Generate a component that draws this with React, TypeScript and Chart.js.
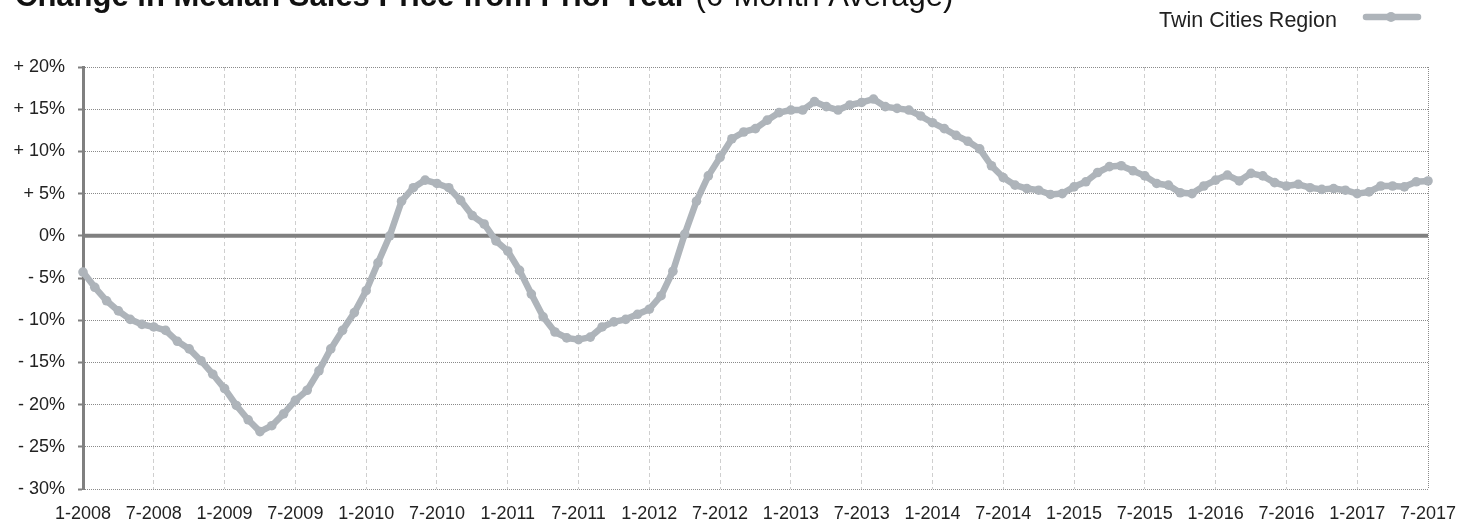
import React, { useEffect, useRef } from "react";
import { Chart, registerables } from "chart.js";

Chart.register(...registerables);

const MONTHS = ["1", "2", "3", "4", "5", "6", "7", "8", "9", "10", "11", "12"];
const YEARS = [2008, 2009, 2010, 2011, 2012, 2013, 2014, 2015, 2016, 2017];
const CATEGORIES = YEARS.flatMap((y) => MONTHS.map((m) => `${m}-${y}`)).slice(0, 115);

const TICK_LABELS = [
  "1-2008", "7-2008", "1-2009", "7-2009", "1-2010", "7-2010", "1-2011", "7-2011",
  "1-2012", "7-2012", "1-2013", "7-2013", "1-2014", "7-2014", "1-2015", "7-2015",
  "1-2016", "7-2016", "1-2017", "7-2017",
];

const SERIES_NAME = "Twin Cities Region";

// Change in median sales price from prior year, 6-month average (%)
const VALUES_2008 = [-4.3, -6.1, -7.7, -8.9, -9.9, -10.5, -10.8, -11.2, -12.5, -13.4, -14.8, -16.4];
const VALUES_2009 = [-18.1, -20.1, -21.8, -23.2, -22.5, -21.1, -19.5, -18.3, -16.0, -13.4, -11.2, -9.1];
const VALUES_2010 = [-6.5, -3.2, 0.0, 4.1, 5.7, 6.6, 6.2, 5.7, 4.2, 2.4, 1.4, -0.6];
const VALUES_2011 = [-1.8, -4.1, -6.9, -9.6, -11.4, -12.1, -12.3, -12.0, -10.8, -10.2, -9.9, -9.3];
const VALUES_2012 = [-8.7, -7.1, -4.2, 0.2, 4.1, 7.1, 9.3, 11.5, 12.3, 12.7, 13.7, 14.6];
const VALUES_2013 = [14.9, 14.9, 15.9, 15.3, 14.9, 15.5, 15.8, 16.2, 15.3, 15.1, 14.9, 14.2];
const VALUES_2014 = [13.4, 12.7, 11.9, 11.2, 10.3, 8.3, 6.9, 6.0, 5.6, 5.4, 4.9, 5.0];
const VALUES_2015 = [5.8, 6.4, 7.5, 8.2, 8.3, 7.7, 7.1, 6.2, 6.0, 5.1, 5.0, 5.9];
const VALUES_2016 = [6.6, 7.2, 6.5, 7.4, 7.1, 6.3, 5.9, 6.1, 5.7, 5.5, 5.6, 5.4];
const VALUES_2017 = [5.0, 5.2, 5.9, 5.9, 5.8, 6.4, 6.5];

const VALUES = [
  ...VALUES_2008, ...VALUES_2009, ...VALUES_2010, ...VALUES_2011, ...VALUES_2012,
  ...VALUES_2013, ...VALUES_2014, ...VALUES_2015, ...VALUES_2016, ...VALUES_2017,
];

const TITLE_BOLD = "Change in Median Sales Price from Prior Year";
const TITLE_NORMAL = " (6-Month Average)";

const FONT = '"Liberation Sans", Arial, Helvetica, sans-serif';
const LINE_COLOR = "rgb(174,180,186)";

const decorPlugin = {
  id: "decor",
  beforeDatasetsDraw(chart: any) {
    const { ctx, chartArea, scales } = chart;
    const y0 = scales.y.getPixelForValue(0);
    ctx.save();
    ctx.strokeStyle = "#808080";
    ctx.lineWidth = 4;
    ctx.beginPath();
    ctx.moveTo(chartArea.left, y0);
    ctx.lineTo(chartArea.right, y0);
    ctx.stroke();
    ctx.setLineDash([1, 1]);
    ctx.lineWidth = 1;
    ctx.strokeStyle = "#8a8a8a";
    const xr = Math.round(chartArea.right) + 0.5;
    ctx.beginPath();
    ctx.moveTo(xr, chartArea.top);
    ctx.lineTo(xr, chartArea.bottom);
    ctx.stroke();
    ctx.restore();
  },
  afterDraw(chart: any) {
    const { ctx } = chart;
    ctx.save();
    // title (partly cut off at top, as in the reference)
    ctx.fillStyle = "#111";
    ctx.textBaseline = "alphabetic";
    ctx.textAlign = "left";
    ctx.font = `bold 31px ${FONT}`;
    ctx.fillText(TITLE_BOLD, 15, 6);
    const w = ctx.measureText(TITLE_BOLD).width;
    ctx.font = `31px ${FONT}`;
    ctx.fillText(TITLE_NORMAL, 15 + w, 6);

    // legend
    ctx.font = `21.5px ${FONT}`;
    ctx.fillStyle = "#222";
    ctx.textAlign = "right";
    ctx.fillText(SERIES_NAME, 1337, 27);
    ctx.strokeStyle = LINE_COLOR;
    ctx.lineWidth = 6.5;
    ctx.lineCap = "round";
    ctx.beginPath();
    ctx.moveTo(1366, 17);
    ctx.lineTo(1418, 17);
    ctx.stroke();
    ctx.fillStyle = LINE_COLOR;
    ctx.beginPath();
    ctx.arc(1391, 17, 5, 0, Math.PI * 2);
    ctx.fill();
    ctx.restore();
  },
};

export default function App() {
  const canvasRef = useRef<HTMLCanvasElement | null>(null);

  useEffect(() => {
    if (!canvasRef.current) return;
    const chart = new Chart(canvasRef.current, {
      type: "line",
      data: {
        labels: CATEGORIES,
        datasets: [
          {
            label: SERIES_NAME,
            data: VALUES,
            borderColor: LINE_COLOR,
            backgroundColor: LINE_COLOR,
            borderWidth: 6.5,
            pointRadius: 4.8,
            pointBorderWidth: 0,
            pointBackgroundColor: LINE_COLOR,
            tension: 0,
            borderJoinStyle: "round",
            borderCapStyle: "round",
            clip: false as any,
          },
        ],
      },
      options: {
        animation: false,
        responsive: true,
        maintainAspectRatio: false,
        layout: { padding: { top: 67, right: 44, left: 0, bottom: 0 } },
        plugins: {
          legend: { display: false },
          tooltip: { enabled: false },
          title: { display: false },
        },
        scales: {
          x: {
            type: "category",
            offset: false,
            border: { display: false, dash: [4, 3] },
            grid: {
              drawTicks: false,
              lineWidth: 1,
              color: (c: any) =>
                c.index % 6 === 0 && c.index !== 0 && c.index !== CATEGORIES.length - 1
                  ? "#cfcfcf"
                  : "transparent",
            },
            ticks: {
              autoSkip: false,
              maxRotation: 0,
              minRotation: 0,
              padding: 14,
              color: "#222",
              font: { family: FONT, size: 18 },
              callback: (_v: any, i: number) =>
                TICK_LABELS.includes(CATEGORIES[i]) ? CATEGORIES[i] : "",
            },
            afterFit: (scale: any) => {
              scale.height = 32;
            },
          },
          y: {
            min: -30,
            max: 20,
            border: { display: true, color: "#808080", width: 3, dash: [1, 1] },
            grid: {
              drawTicks: true,
              tickLength: 5,
              tickWidth: 2,
              tickColor: "#808080",
              lineWidth: 1,
              color: (c: any) => (c.tick && c.tick.value === 0 ? "transparent" : "#8a8a8a"),
            },
            ticks: {
              stepSize: 5,
              padding: 13,
              color: "#222",
              font: { family: FONT, size: 18 },
              callback: (v: any) => {
                const n = Number(v);
                if (n > 0) return `+ ${n}%`;
                if (n < 0) return `- ${-n}%`;
                return "0%";
              },
            },
            afterFit: (scale: any) => {
              scale.width = 83;
            },
          },
        },
      },
      plugins: [decorPlugin],
    });
    return () => chart.destroy();
  }, []);

  return (
    <div style={{ position: "fixed", left: 0, top: 0, width: 1472, height: 521, background: "#fff" }}>
      <canvas ref={canvasRef} />
    </div>
  );
}
